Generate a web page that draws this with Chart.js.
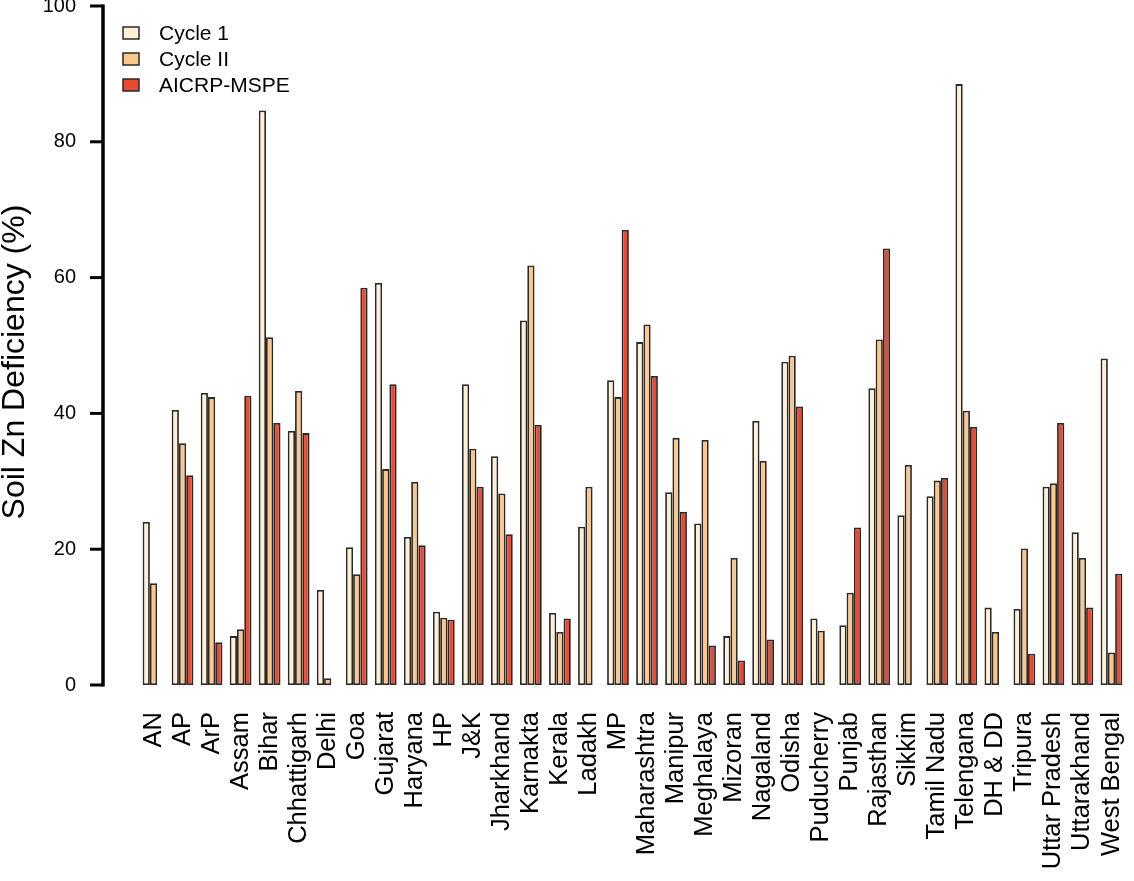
<!DOCTYPE html>
<html lang="en">
<head>
  <meta charset="UTF-8">
  <title>Soil Zn Deficiency</title>
  <style>
    body { margin: 0; background: #fff; }
    #wrap { width: 1134px; height: 881px; }
  </style>
</head>
<body>
  <div id="wrap"><canvas id="chart" width="1134" height="881"></canvas></div>
  <script src="https://cdn.jsdelivr.net/npm/chart.js"></script>
  <script>
    // Data
    const states = ['AN', 'AP', 'ArP', 'Assam', 'Bihar', 'Chhattigarh', 'Delhi', 'Goa', 'Gujarat', 'Haryana',
      'HP', 'J&K', 'Jharkhand', 'Karnakta', 'Kerala', 'Ladakh', 'MP', 'Maharashtra', 'Manipur', 'Meghalaya',
      'Mizoran', 'Nagaland', 'Odisha', 'Puducherry', 'Punjab', 'Rajasthan', 'Sikkim', 'Tamil Nadu', 'Telengana',
      'DH & DD', 'Tripura', 'Uttar Pradesh', 'Uttarakhand', 'West Bengal'];
    const cycle1 = [24.0, 40.5, 43.0, 7.2, 84.6, 37.4, 14.0, 20.3, 59.2, 21.8,
      10.8, 44.3, 33.7, 53.7, 10.6, 23.3, 44.9, 50.5, 28.4, 23.8,
      7.2, 38.9, 47.6, 9.8, 8.8, 43.7, 25.0, 27.8, 88.5,
      11.4, 11.2, 29.2, 22.5, 48.1];
    const cycle2 = [15.0, 35.6, 42.4, 8.2, 51.2, 43.3, 1.0, 16.3, 31.8, 29.9,
      9.9, 34.8, 28.2, 61.8, 7.8, 29.2, 42.4, 53.1, 36.4, 36.1,
      18.7, 33.0, 48.5, 8.0, 13.6, 50.9, 32.4, 30.1, 40.4,
      7.8, 20.1, 29.7, 18.7, 4.8];
    const aicrp = [null, 30.9, 6.3, 42.6, 38.6, 37.1, null, 58.5, 44.3, 20.6,
      9.6, 29.2, 22.2, 38.3, 9.8, null, 67.0, 45.5, 25.5, 5.8,
      3.6, 6.7, 41.0, null, 23.2, 64.3, null, 30.5, 38.0,
      null, 4.6, 38.6, 11.4, 16.4];
    const yTicks = [0, 20, 40, 60, 80, 100];
    const seriesNames = ['Cycle 1', 'Cycle II', 'AICRP-MSPE'];
    const seriesColors = ['#FEF0D6', '#FDC68B', '#E84A32'];
    const yTitle = 'Soil Zn Deficiency (%)';

    const edge = '#2a2a2a';
    const font = 'Liberation Sans, Arial, sans-serif';

    // axis line with tick marks, set off to the left of the bars, plus legend and y title
    const decorations = {
      id: 'decorations',
      afterDraw(chart) {
        const ctx = chart.ctx;
        const ys = chart.scales.y;
        const xl = chart.chartArea.left - 36;
        ctx.save();
        ctx.strokeStyle = '#000';
        ctx.lineWidth = 3.5;
        ctx.lineCap = 'butt';
        ctx.beginPath();
        ctx.moveTo(xl, ys.getPixelForValue(yTicks[yTicks.length - 1]) - 1.5);
        ctx.lineTo(xl, ys.getPixelForValue(yTicks[0]) + 1.5);
        ctx.stroke();
        ctx.lineWidth = 3;
        yTicks.forEach(v => {
          const py = ys.getPixelForValue(v);
          ctx.beginPath();
          ctx.moveTo(xl - 13, py);
          ctx.lineTo(xl, py);
          ctx.stroke();
        });

        // y title
        ctx.fillStyle = '#000';
        ctx.font = '32px ' + font;
        ctx.textAlign = 'center';
        ctx.textBaseline = 'middle';
        ctx.translate(15, 362);
        ctx.rotate(-Math.PI / 2);
        ctx.fillText(yTitle, 0, 0);
        ctx.restore();

        // legend
        ctx.save();
        ctx.font = '21px ' + font;
        ctx.textAlign = 'left';
        ctx.textBaseline = 'middle';
        chart.data.datasets.forEach((ds, i) => {
          const cy = 33 + i * 26;
          ctx.fillStyle = ds.backgroundColor;
          ctx.fillRect(123, cy - 6, 16, 12);
          ctx.strokeStyle = edge;
          ctx.lineWidth = 1.5;
          ctx.strokeRect(123, cy - 6, 16, 12);
          ctx.fillStyle = '#000';
          ctx.fillText(ds.label, 159, cy + 1);
        });
        ctx.restore();
      }
    };

    const makeSet = (i, data) => ({
      label: seriesNames[i],
      data: data,
      backgroundColor: seriesColors[i],
      borderColor: edge,
      borderWidth: 1.8,
      borderSkipped: false,
      categoryPercentage: 0.75,
      barPercentage: 1.0
    });

    new Chart(document.getElementById('chart'), {
      type: 'bar',
      data: {
        labels: states,
        datasets: [makeSet(0, cycle1), makeSet(1, cycle2), makeSet(2, aicrp)]
      },
      options: {
        responsive: false,
        devicePixelRatio: 1,
        animation: false,
        layout: { padding: { top: 6, right: 8, left: 0, bottom: 0 } },
        plugins: {
          legend: { display: false },
          tooltip: { enabled: false }
        },
        scales: {
          x: {
            offset: true,
            grid: { display: false },
            border: { display: false },
            ticks: {
              autoSkip: false,
              minRotation: 90,
              maxRotation: 90,
              padding: 19,
              color: '#000',
              font: { family: font, size: 25.5 }
            },
            afterFit(scale) {
              scale.height = 196;
              scale.paddingLeft = 0;
              scale.paddingRight = 0;
            }
          },
          y: {
            min: 0,
            max: 100,
            grid: { display: false },
            border: { display: false },
            afterBuildTicks(scale) {
              scale.ticks = yTicks.map(v => ({ value: v }));
            },
            ticks: {
              padding: 55,
              color: '#000',
              font: { family: font, size: 20 }
            },
            afterFit(scale) {
              scale.width = 139;
              scale.paddingTop = 0;
              scale.paddingBottom = 0;
            }
          }
        }
      },
      plugins: [decorations]
    });
  </script>
</body>
</html>
